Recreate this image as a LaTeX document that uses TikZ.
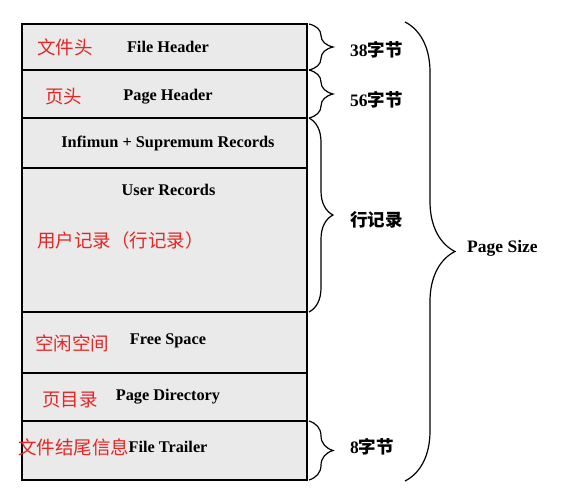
\documentclass[tikz,border=0pt]{standalone}
\usepackage{fontspec}
\setmainfont{Liberation Serif}
\newfontfamily\cjk{Noto Sans CJK SC}
\usetikzlibrary{positioning,calc,decorations.pathreplacing}
\definecolor{rowfill}{RGB}{234,234,234}
\definecolor{cnred}{RGB}{232,36,36}
\tikzset{
  row/.style={draw, line width=2.2pt, fill=rowfill, minimum width=285pt,
              inner sep=0pt, outer sep=0pt,
              execute at begin node={\hspace*{7pt}},
              font=\fontsize{16.3}{18}\selectfont\bfseries},
  rowtxt/.style={inner sep=0pt, font=\fontsize{16.3}{18}\selectfont\bfseries},
  cnlbl/.style={anchor=west, inner sep=0pt, text=cnred,
                font=\fontsize{18.5}{21}\selectfont\cjk},
  sizelbl/.style={anchor=west, inner sep=0pt,
                  font=\fontsize{17.5}{20}\selectfont\bfseries},
  brc/.style={decorate, decoration={brace, amplitude=#1}, line width=1.2pt},
  brc/.default=24pt,
}
\begin{document}
\begin{tikzpicture}[x=1pt, y=-1pt]
  \useasboundingbox (0,0) rectangle (563,490);
  % page rows
  \node[row, minimum height=46pt, anchor=north west] (fh) at (22,24) {File Header};
  \node[row, minimum height=48pt, text height=17pt, below=0pt of fh] (ph) {Page Header};
  \node[row, minimum height=50pt, below=0pt of ph] (inf) {Infimun + Supremum Records};
  \node[row, minimum height=144pt, below=0pt of inf] (ur) {};
  \node[rowtxt, below=16pt of ur.north, xshift=4pt] (urt) {User Records};
  \node[row, minimum height=61pt, text depth=7pt, below=0pt of ur] (fs) {Free Space};
  \node[row, minimum height=48pt, below=0pt of fs] (pd) {Page Directory};
  \node[row, minimum height=59pt, text depth=8pt, below=0pt of pd] (ft) {File Trailer};
  % red labels
  \node[cnlbl] (cfh) at (37,47) {文件头};
  \node[cnlbl] (cph) at (45,97) {页头};
  \node[cnlbl] (cur) at (37,240) {用户记录（行记录）};
  \node[cnlbl] (cfs) at (35,343) {空闲空间};
  \node[cnlbl] (cpd) at (42,400) {页目录};
  \node[cnlbl] (cft) at (18,447) {文件结尾信息};
  % braces
  \draw[brc] ($(fh.north east)+(2,0)$) -- ($(fh.south east)+(2,0)$);
  \draw[brc] ($(ph.north east)+(2,0)$) -- ($(ph.south east)+(2,0)$);
  \draw[brc] ($(inf.north east)+(2,0)$) -- ($(ur.south east)+(2,0)$);
  \draw[brc] ($(ft.north east)+(2,0)$) -- ($(ft.south east)+(2,0)$);
  \draw[brc=50pt] ($(fh.north east)+(98,-2)$) -- ($(ft.south east)+(98,1)$);
  \node[sizelbl] (s38) at (350,50) {38{\cjk 字节}};
  \node[sizelbl] (s56) at (350,100) {56{\cjk 字节}};
  \node[sizelbl] (srec) at (350,220) {\cjk 行记录};
  \node[sizelbl] (s8) at (350,447) {8{\cjk 字节}};
  \node[sizelbl] (spage) at (467,248) {Page Size};
\end{tikzpicture}
\end{document}
